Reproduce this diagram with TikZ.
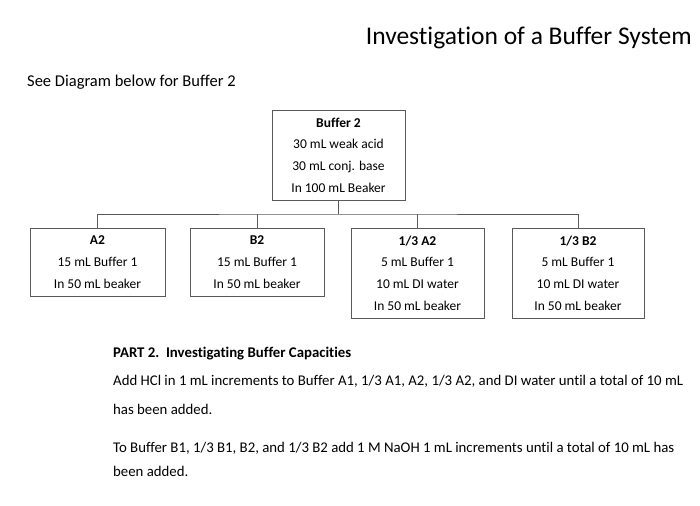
\documentclass[tikz,border=0pt]{standalone}
\usepackage{fontspec}
\setmainfont[Ligatures=NoCommon]{Carlito}
\begin{document}
\begin{tikzpicture}[x=1pt,y=-1pt,
  bx/.style={draw=gray!70!black,line width=0.8pt,align=center,font=\fontsize{13.5}{21.7}\selectfont,inner sep=0pt},
  ln/.style={draw=gray!70!black,line width=0.8pt},
  txt/.style={anchor=west,inner sep=0pt,font=\fontsize{14.8}{17}\selectfont}]
\useasboundingbox (0,0) rectangle (700,505);
\node[anchor=east,inner sep=0pt,font=\fontsize{25.5}{28}\selectfont] (title) at (692,38) {Investigation of a Buffer System};
\node[txt,font=\fontsize{16.5}{17}\selectfont] (see) at (27,82) {See Diagram below for Buffer 2};
\node[bx,minimum width=133pt,minimum height=90pt] (b2) at (338.5,155) {\textbf{Buffer 2}\\30 mL weak acid\\30 mL conj. base\\In 100 mL Beaker};
\node[bx,minimum width=135pt,minimum height=68pt] (a) at (97.5,262) {\textbf{A2}\\15 mL Buffer 1\\In 50 mL beaker};
\node[bx,minimum width=134pt,minimum height=68pt] (b) at (257,262) {\textbf{B2}\\15 mL Buffer 1\\In 50 mL beaker};
\node[bx,minimum width=133pt,minimum height=90pt] (c) at (417.5,273) {\textbf{1/3 A2}\\5 mL Buffer 1\\10 mL DI water\\In 50 mL beaker};
\node[bx,minimum width=132pt,minimum height=90pt] (d) at (578,273) {\textbf{1/3 B2}\\5 mL Buffer 1\\10 mL DI water\\In 50 mL beaker};
\coordinate (j) at (338.5,214);
\draw[ln] (b2.south) -- (j);
\draw[ln] (a.north) |- (j) -| (d.north);
\draw[ln] (b.north) -- (b.north |- j);
\draw[ln] (c.north) -- (c.north |- j);
\node[txt] (p2) at (113,354) {\textbf{PART 2.\ \ Investigating Buffer Capacities}};
\node[txt] (l1) at (113,381) {Add HCl in 1 mL increments to Buffer A1, 1/3 A1, A2, 1/3 A2, and DI water until a total of 10 mL};
\node[txt] (l2) at (113,409) {has been added.};
\node[txt] (l3) at (113,448) {To Buffer B1, 1/3 B1, B2, and 1/3 B2 add 1 M NaOH 1 mL increments until a total of 10 mL has};
\node[txt] (l4) at (113,471) {been added.};
\end{tikzpicture}
\end{document}
